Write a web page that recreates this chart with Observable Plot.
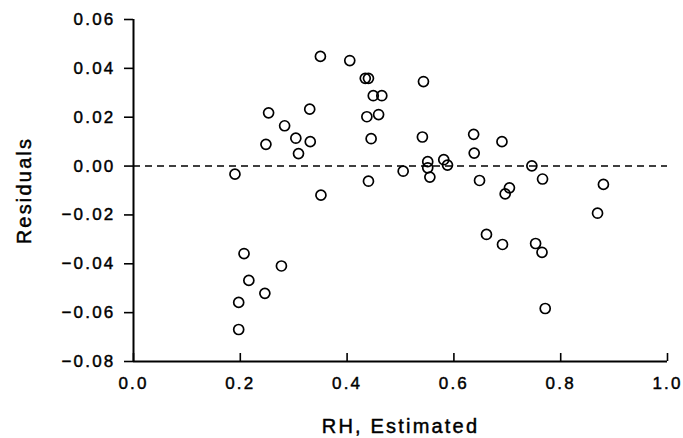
<!DOCTYPE html>
<html>
<head>
<meta charset="utf-8">
<script src="https://cdn.jsdelivr.net/npm/d3@7"></script>
<script src="https://cdn.jsdelivr.net/npm/@observablehq/plot@0.6"></script>
<style>
  html, body { margin: 0; padding: 0; background: #fff; }
  #chart svg text { font-size: 17px; stroke: #000; stroke-width: 0.45px; }
  #chart svg g[aria-label="x-axis label"] text,
  #chart svg g[aria-label="y-axis label"] text { font-size: 20px; }
</style>
</head>
<body>
<div id="chart"></div>
<script>
// RH, Estimated (x) and Residuals (y)
const rhEstimated = [
  0.190, 0.350, 0.405, 0.434, 0.440, 0.449, 0.465, 0.437, 0.459, 0.445,
  0.440, 0.351, 0.253, 0.283, 0.330, 0.304, 0.331, 0.248, 0.309, 0.543,
  0.541, 0.551, 0.551, 0.555, 0.505, 0.581, 0.588, 0.637, 0.638, 0.648,
  0.690, 0.704, 0.696, 0.746, 0.766, 0.880, 0.869, 0.661, 0.691, 0.753,
  0.765, 0.771, 0.207, 0.277, 0.216, 0.246, 0.197, 0.197
];
const residuals = [
  -0.0033, 0.0449, 0.0432, 0.0359, 0.0359, 0.0288, 0.0288, 0.0202, 0.0211, 0.0112,
  -0.0062, -0.0119, 0.0218, 0.0165, 0.0233, 0.0114, 0.0100, 0.0089, 0.0051, 0.0346,
  0.0119, 0.0018, -0.0007, -0.0045, -0.0021, 0.0026, 0.0004, 0.0130, 0.0053, -0.0059,
  0.0100, -0.0089, -0.0114, 0.0001, -0.0053, -0.0075, -0.0193, -0.0280, -0.0321, -0.0317,
  -0.0353, -0.0583, -0.0358, -0.0409, -0.0468, -0.0521, -0.0558, -0.0669
];
const xTicks = [0.0, 0.2, 0.4, 0.6, 0.8, 1.0];
const yTicks = [-0.08, -0.06, -0.04, -0.02, 0.00, 0.02, 0.04, 0.06];
const xLabel = "RH, Estimated";
const yLabel = "Residuals";

const points = rhEstimated.map((x, i) => ({x, y: residuals[i]}));

const chart = Plot.plot({
  width: 683,
  height: 438,
  marginLeft: 133,
  marginRight: 16,
  marginTop: 19,
  marginBottom: 77,
  style: {fontFamily: "'Liberation Sans', Arial, sans-serif", letterSpacing: "2.2px", background: "#fff", color: "#000"},
  x: {domain: [0, 1]},
  y: {domain: [-0.08, 0.06]},
  marks: [
    Plot.ruleY([0], {strokeDasharray: "7,5", strokeWidth: 1.6}),
    Plot.ruleX([0], {strokeWidth: 2}),
    Plot.ruleY([-0.08], {strokeWidth: 2}),
    // y tick marks and tick labels
    Plot.axisY({ticks: yTicks, tickFormat: d3.format(".2f"), tickSize: 9, tickPadding: 9, strokeWidth: 1.6, label: null}),
    // y axis title
    Plot.axisY({ticks: [], label: yLabel, labelAnchor: "center", labelArrow: "none", labelOffset: 117, tickSize: 0}),
    // x inward ticks
    Plot.axisX({ticks: xTicks, tickSize: 8, dy: -8, strokeWidth: 1.6, tickFormat: () => "", label: null}),
    // x tick labels
    Plot.axisX({ticks: xTicks, tickFormat: d3.format(".1f"), tickSize: 0, tickPadding: 15, label: null}),
    // x axis title
    Plot.axisX({ticks: [], label: xLabel, labelAnchor: "center", labelArrow: "none", labelOffset: 71, tickSize: 0}),
    Plot.dot(points, {x: "x", y: "y", r: 5, stroke: "#000", strokeWidth: 1.7, fill: "none"})
  ]
});
document.getElementById("chart").appendChild(chart);
</script>
</body>
</html>
